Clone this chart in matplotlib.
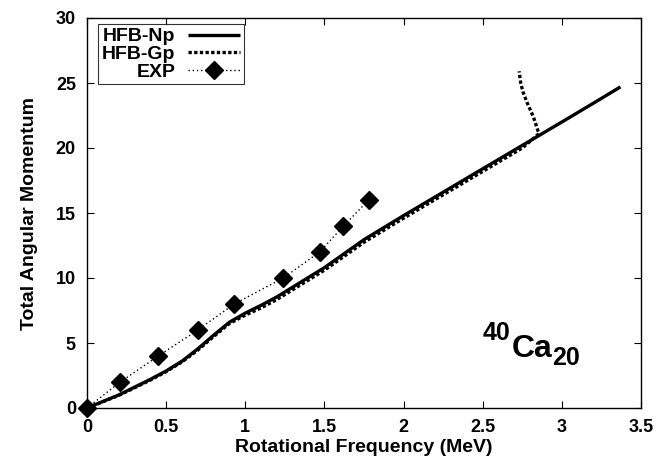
import matplotlib
matplotlib.use("Agg")
import matplotlib.pyplot as plt

plt.rcParams['font.family'] = ['Liberation Sans', 'DejaVu Sans']
plt.rcParams['font.weight'] = 'bold'

# Data
np_x = [0, 0.1, 0.2, 0.3, 0.4, 0.5, 0.6, 0.7, 0.8, 0.9, 1.0, 1.1, 1.2, 1.3, 1.4, 1.5,
        1.75, 2.0, 2.25, 2.5, 2.75, 3.0, 3.2, 3.37]
np_y = [0, 0.5, 1.0, 1.6, 2.2, 2.85, 3.6, 4.55, 5.6, 6.6, 7.3, 7.9, 8.55, 9.3, 10.05, 10.8,
        12.95, 14.8, 16.6, 18.4, 20.2, 22.0, 23.45, 24.7]

gp_x = [0, 0.1, 0.2, 0.3, 0.4, 0.5, 0.6, 0.7, 0.8, 0.9, 1.0, 1.1, 1.2, 1.3, 1.4, 1.5,
        1.75, 2.0, 2.25, 2.5, 2.75, 2.855, 2.82, 2.78, 2.755, 2.74, 2.73]
gp_y = [0, 0.48, 0.97, 1.55, 2.15, 2.8, 3.55, 4.45, 5.5, 6.5, 7.15, 7.7, 8.35, 9.1, 9.85, 10.6,
        12.75, 14.6, 16.4, 18.2, 20.0, 21.1, 22.4, 23.5, 24.3, 25.0, 25.9]

exp_x = [0, 0.21, 0.45, 0.70, 0.93, 1.24, 1.47, 1.62, 1.78]
exp_y = [0, 2, 4, 6, 8, 10, 12, 14, 16]

xticks = [0, 0.5, 1, 1.5, 2, 2.5, 3, 3.5]
xticklabels = ['0', '0.5', '1', '1.5', '2', '2.5', '3', '3.5']
yticks = [0, 5, 10, 15, 20, 25, 30]

fig = plt.figure(figsize=(6.58, 4.70), dpi=100)
ax = fig.add_axes([87/658, 62/470, (641-87)/658, (408-18)/470])

ax.plot(np_x, np_y, color='black', lw=2.4, ls='-', label='HFB-Np', solid_capstyle='butt')
ax.plot(gp_x, gp_y, color='black', lw=2.4, ls=(0, (1.0, 0.7)), label='HFB-Gp')
ax.plot(exp_x, exp_y, color='black', lw=1.0, ls=(0, (1, 2)), marker='D', markersize=9.5,
        label='EXP', clip_on=False, zorder=5)

ax.set_xlim(0, 3.5)
ax.set_ylim(0, 30)
ax.set_xticks(xticks)
ax.set_xticklabels(xticklabels)
ax.set_yticks(yticks)
ax.tick_params(direction='in', top=True, right=True, length=5, width=0.8,
               labelsize=13, pad=8)
for lbl in ax.get_xticklabels() + ax.get_yticklabels():
    lbl.set_fontweight('bold')
for s in ax.spines.values():
    s.set_linewidth(1.0)

ax.set_xlabel('Rotational Frequency (MeV)', fontsize=14, fontweight='bold', labelpad=2)
ax.set_ylabel('Total Angular Momentum', fontsize=14, fontweight='bold', labelpad=13)

leg = ax.legend(loc='upper left', bbox_to_anchor=(0.02, 0.985), markerfirst=False,
                prop={'size': 14, 'weight': 'bold'}, frameon=True, fancybox=False,
                edgecolor='black', handlelength=2.7, handletextpad=0.65, borderpad=0.2,
                labelspacing=0.0, borderaxespad=0.0)
leg.get_frame().set_linewidth(0.8)

ax.text(483, 470-340, '40', transform=None, fontsize=18, fontweight='bold', ha='left', va='baseline')
ax.text(512, 470-357, 'Ca', transform=None, fontsize=23, fontweight='bold', ha='left', va='baseline')
ax.text(552, 470-365, '20', transform=None, fontsize=18, fontweight='bold', ha='left', va='baseline')

fig.savefig('out.png', dpi=100)
